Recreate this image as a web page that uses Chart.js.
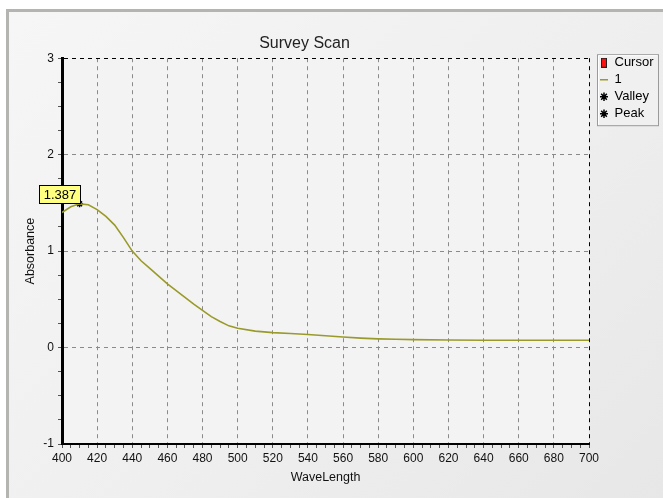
<!DOCTYPE html>
<html>
<head>
<meta charset="utf-8">
<script src="https://cdn.jsdelivr.net/npm/chart.js@4/dist/chart.umd.min.js"></script>
<style>
  html, body { margin: 0; padding: 0; background: #ffffff; }
  #wrap { position: relative; width: 663px; height: 498px; overflow: hidden; background: #ffffff; }
  #panel { position: absolute; left: 6px; top: 9px; width: 700px; height: 520px;
           border-top: 3px solid #b4b4b0; border-left: 3px solid #b4b4b0;
           background: linear-gradient(135deg, #f6f6f6 0%, #efefef 50%, #e6e6e6 100%); }
  #c { position: absolute; left: 0; top: 0; }
</style>
</head>
<body>
<div id="wrap">
  <div id="panel"></div>
  <canvas id="c" width="663" height="498"></canvas>
</div>
<script>
// ---- data ----
const chartTitle = 'Survey Scan';
const xTitle = 'WaveLength';
const yTitle = 'Absorbance';
const legendNames = ['Cursor', '1', 'Valley', 'Peak'];
const wavelengths = [400,405,410,415,420,425,430,435,440,445,450,455,460,465,470,475,480,485,490,495,500,510,520,530,540,550,560,570,580,590,600,620,640,660,680,700];
const absorbance  = [1.40,1.46,1.49,1.48,1.43,1.36,1.27,1.14,1.00,0.90,0.82,0.74,0.66,0.59,0.52,0.45,0.385,0.32,0.27,0.225,0.20,0.17,0.155,0.145,0.135,0.123,0.11,0.098,0.09,0.086,0.082,0.078,0.075,0.075,0.075,0.075];
const peakX = [410];
const peakY = [1.49];
const peakLabel = '1.387';
const xMin = 400, xMax = 700, xMajor = 20, xMinor = 5;
const yMin = -1, yMax = 3, yMajor = 1, yMinor = 0.25;

const FONT = "'Liberation Sans', Arial, sans-serif";
const lineColor = '#9a9a2a';

// legend icon for the cursor (red bar)
const cursorIcon = document.createElement('canvas');
cursorIcon.width = 6; cursorIcon.height = 10;
(function(){
  const g = cursorIcon.getContext('2d');
  g.fillStyle = '#222'; g.fillRect(0,0,6,10);
  g.fillStyle = '#ff1010'; g.fillRect(1,1,4,8);
})();

const seriesPoints = wavelengths.map((w,i)=>({x:w, y:absorbance[i]}));
const peakPoints = peakX.map((w,i)=>({x:w, y:peakY[i]}));

const isMult = (v, m) => Math.abs(v/m - Math.round(v/m)) < 1e-6;

const bgPlugin = {
  id: 'plotbg',
  beforeDraw(chart) {
    const a = chart.chartArea, ctx = chart.ctx;
    ctx.save();
    ctx.fillStyle = '#f3f3f3';
    ctx.fillRect(a.left, a.top, a.right - a.left, a.bottom - a.top);
    ctx.restore();
  }
};

const legendPlacer = {
  id: 'legendPlacer',
  afterLayout(chart) {
    const lg = chart.legend, a = chart.chartArea;
    lg.left = a.right + 7;
    lg.top = a.top - 6;
    lg.right = lg.left + lg.width;
    lg.bottom = lg.top + lg.height;
  },
  beforeDraw(chart) {
    const lg = chart.legend, ctx = chart.ctx;
    const x = lg.left + 1, y = lg.top + 2, w = 61, h = 71;
    ctx.save();
    ctx.fillStyle = '#f0f0f0';
    ctx.fillRect(x, y, w, h);
    ctx.strokeStyle = '#9a9a9a';
    ctx.lineWidth = 1;
    ctx.strokeRect(x + 0.5, y + 0.5, w, h);
    ctx.strokeStyle = '#ffffff';
    ctx.beginPath(); ctx.moveTo(x+1.5, y+h-0.5); ctx.lineTo(x+1.5, y+1.5); ctx.lineTo(x+w-0.5, y+1.5); ctx.stroke();
    ctx.restore();
  }
};

const peakTag = {
  id: 'peakTag',
  afterDatasetsDraw(chart) {
    const meta = chart.getDatasetMeta(3);
    if (!meta.data.length) return;
    const p = meta.data[0];
    const ctx = chart.ctx;
    ctx.save();
    ctx.font = '13px ' + FONT;
    const tw = ctx.measureText(peakLabel).width;
    const w = Math.round(tw + 8), h = 18;
    const x = Math.round(p.x) - w, y = Math.round(p.y) - h - 1;
    ctx.fillStyle = '#ffff80';
    ctx.fillRect(x, y, w, h);
    ctx.strokeStyle = '#000';
    ctx.lineWidth = 1;
    ctx.strokeRect(x + 0.5, y + 0.5, w, h);
    ctx.fillStyle = '#000';
    ctx.textAlign = 'center';
    ctx.textBaseline = 'middle';
    ctx.fillText(peakLabel, x + w/2 + 0.5, y + h/2 + 1);
    ctx.restore();
  }
};

new Chart(document.getElementById('c'), {
  type: 'line',
  data: {
    datasets: [
      { label: legendNames[0], data: [], borderColor: '#ff1010', backgroundColor: '#ff1010', pointStyle: cursorIcon, showLine: false },
      { label: legendNames[1], data: seriesPoints, borderColor: lineColor, backgroundColor: lineColor, borderWidth: 1.6, pointRadius: 0, pointStyle: 'line', tension: 0 },
      { label: legendNames[2], data: [], borderColor: '#000', backgroundColor: '#000', borderWidth: 1.5, pointStyle: 'star', showLine: false },
      { label: legendNames[3], data: peakPoints, borderColor: '#000', backgroundColor: '#000', borderWidth: 1.5, pointStyle: 'star', pointRadius: 3.5, showLine: false }
    ]
  },
  options: {
    responsive: false,
    animation: false,
    devicePixelRatio: 1,
    layout: { padding: { left: 20, top: 0, right: 74, bottom: 0 } },
    plugins: {
      title: {
        display: true, text: chartTitle, color: '#222',
        font: { family: FONT, size: 16, weight: 'normal', lineHeight: 1.2 },
        padding: { top: 34, bottom: 5 }
      },
      legend: {
        display: true, position: 'chartArea', align: 'start',
        labels: {
          usePointStyle: true, pointStyleWidth: 8, boxHeight: 6, padding: 4,
          color: '#000', font: { family: FONT, size: 13, lineHeight: 1 }
        }
      },
      tooltip: { enabled: false }
    },
    scales: {
      x: {
        type: 'linear', min: xMin, max: xMax,
        afterFit(s) { s.height = 54; },
        ticks: {
          stepSize: xMinor, autoSkip: false, maxRotation: 0, color: '#111', padding: 3,
          font: { family: FONT, size: 12 },
          callback: v => isMult(v, xMajor) ? String(v) : ''
        },
        grid: {
          drawTicks: true, tickLength: 4, lineWidth: 1,
          color: c => (!isMult(c.tick.value, xMajor) || c.tick.value === xMin) ? 'rgba(0,0,0,0)' : (c.tick.value === xMax ? '#000' : '#8a8a8a'),
          tickColor: '#555'
        },
        border: { display: true, color: '#000', width: 2, dash: [4, 4] },
        title: { display: true, text: xTitle, color: '#111', font: { family: FONT, size: 12.5 }, padding: { top: 0, bottom: 13 } }
      },
      y: {
        type: 'linear', min: yMin, max: yMax,
        afterFit(s) { s.width = 42; },
        ticks: {
          stepSize: yMinor, autoSkip: false, color: '#111', padding: 4,
          font: { family: FONT, size: 12 },
          callback: v => isMult(v, yMajor) ? String(v) : ''
        },
        grid: {
          drawTicks: true, tickLength: 4, lineWidth: 1,
          color: c => (!isMult(c.tick.value, yMajor) || c.tick.value === yMin) ? 'rgba(0,0,0,0)' : (c.tick.value === yMax ? '#000' : '#8a8a8a'),
          tickColor: '#555'
        },
        border: { display: true, color: '#000', width: 3, dash: [4, 4] },
        title: { display: true, text: yTitle, color: '#111', font: { family: FONT, size: 12.5 }, padding: { top: 3, bottom: 0 } }
      }
    }
  },
  plugins: [bgPlugin, legendPlacer, peakTag]
});
</script>
</body>
</html>
